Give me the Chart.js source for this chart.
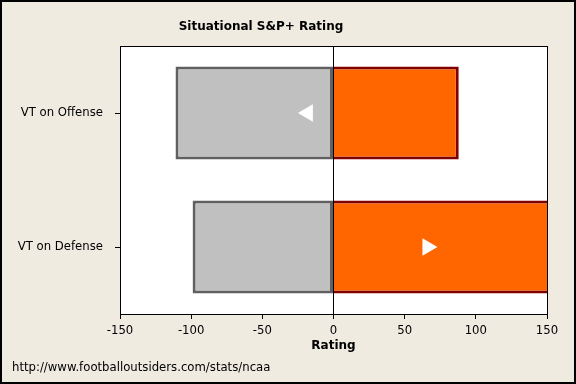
<!DOCTYPE html>
<html>
<head>
<meta charset="utf-8">
<script src="https://cdn.jsdelivr.net/npm/chart.js@4"></script>
<style>
  html, body { margin: 0; padding: 0; background: #efebe1; }
  canvas { display: block; }
</style>
</head>
<body>
<canvas id="myChart" width="576" height="384"></canvas>
<script>
const categories = ["VT on Offense", "VT on Defense"];
const lowValues = [-111, -99];
const highValues = [88, 155];
const markerValues = [-18, 66];
const markerRotation = [-90, 90];
const xTicks = [-150, -100, -50, 0, 50, 100, 150];

const FONT = "'DejaVu Sans', sans-serif";

// background, white plot area, frame, title and source line
const decor = {
    id: 'decor',
    beforeDraw(chart) {
        const { ctx, chartArea: a, width, height } = chart;
        ctx.save();
        ctx.fillStyle = '#efebe1';
        ctx.fillRect(0, 0, width, height);
        ctx.fillStyle = '#ffffff';
        ctx.fillRect(a.left, a.top, a.right - a.left, a.bottom - a.top);
        ctx.restore();
    },
    afterDraw(chart) {
        const { ctx, chartArea: a, width, height } = chart;
        ctx.save();
        ctx.strokeStyle = '#000';
        ctx.lineWidth = 1;
        ctx.strokeRect(a.left + 0.5, a.top + 0.5, a.right - a.left, a.bottom - a.top);
        ctx.lineWidth = 2;
        ctx.strokeRect(1, 1, width - 2, height - 2);
        ctx.fillStyle = '#000';
        ctx.textBaseline = 'middle';
        ctx.textAlign = 'center';
        ctx.font = "bold 12px " + FONT;
        ctx.fillText('Situational S&P+ Rating', 261, 27);
        ctx.textAlign = 'left';
        ctx.font = "11.7px " + FONT;
        ctx.fillText('http://www.footballoutsiders.com/stats/ncaa', 12, 368);
        ctx.restore();
    }
};

new Chart(document.getElementById('myChart').getContext('2d'), {
    type: 'bar',
    data: {
        labels: categories,
        datasets: [
            {
                type: 'scatter',
                data: markerValues.map((v, i) => ({ x: v, y: categories[i] })),
                pointStyle: 'triangle',
                pointRadius: 10,
                rotation: markerRotation,
                backgroundColor: '#ffffff',
                borderWidth: 0
            },
            {
                data: lowValues,
                backgroundColor: '#c0c0c0',
                borderColor: '#606060',
                borderWidth: 3,
                borderSkipped: false,
                clip: 0
            },
            {
                data: highValues,
                backgroundColor: '#ff6600',
                borderColor: '#800000',
                borderWidth: 3,
                borderSkipped: 'start',
                clip: 0
            }
        ]
    },
    options: {
        indexAxis: 'y',
        responsive: false,
        animation: false,
        grouped: false,
        barPercentage: 0.694,
        categoryPercentage: 1,
        layout: { padding: { top: 46, right: 29, left: 0, bottom: 31 } },
        plugins: {
            legend: { display: false },
            tooltip: { enabled: false }
        },
        scales: {
            x: {
                type: 'linear',
                min: -150,
                max: 150,
                afterBuildTicks: s => { s.ticks = xTicks.map(v => ({ value: v })); },
                afterFit: s => { s.height = 39; },
                grid: {
                    color: c => c.tick && c.tick.value === 0 ? '#000' : 'rgba(0,0,0,0)',
                    tickColor: '#000',
                    tickLength: 5,
                    lineWidth: 1
                },
                border: { color: '#000' },
                ticks: { color: '#000', font: { family: FONT, size: 11.7 }, padding: 5, maxRotation: 0 },
                title: {
                    display: true,
                    text: 'Rating',
                    color: '#000',
                    font: { family: FONT, size: 12, weight: 'bold' },
                    padding: { top: 2, bottom: 0 }
                }
            },
            y: {
                type: 'category',
                afterFit: s => { s.width = 120; },
                grid: {
                    drawOnChartArea: false,
                    offset: false,
                    tickColor: '#000',
                    tickLength: 5
                },
                border: { color: '#000' },
                ticks: { color: '#000', font: { family: FONT, size: 11.7 }, padding: 12 }
            }
        }
    },
    plugins: [decor]
});
</script>
</body>
</html>
